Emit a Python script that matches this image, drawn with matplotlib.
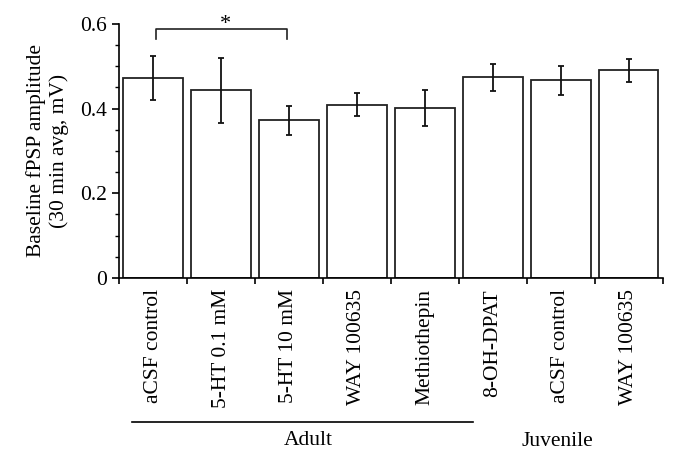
import matplotlib.pyplot as plt
import numpy as np

plt.rcParams['font.family'] = ['Liberation Serif', 'DejaVu Serif']

labels = ['aCSF control', '5-HT 0.1 mM', '5-HT 10 mM', 'WAY 100635',
          'Methiothepin', '8-OH-DPAT', 'aCSF control', 'WAY 100635']
means = [0.472, 0.443, 0.372, 0.409, 0.402, 0.474, 0.467, 0.491]
errors = [0.052, 0.076, 0.034, 0.027, 0.043, 0.032, 0.034, 0.027]

fig = plt.figure(figsize=(6.79, 4.61), dpi=100)
ax = fig.add_axes([0.1753, 0.397, 0.801, 0.551])

x = np.arange(len(labels))
ax.bar(x, means, width=0.87, color='white', edgecolor='#222222', linewidth=1.3,
       yerr=errors, error_kw=dict(ecolor='#111111', elinewidth=1.3, capsize=2, capthick=1.3))

ax.set_xlim(-0.5, len(labels) - 0.5)
ax.set_ylim(0, 0.6)
ax.spines['top'].set_visible(False)
ax.spines['right'].set_visible(False)
ax.spines['left'].set_linewidth(1.2)
ax.spines['bottom'].set_linewidth(1.2)

ax.set_yticks([0, 0.2, 0.4, 0.6])
ax.set_yticklabels(['0', '0.2', '0.4', '0.6'])
ax.set_yticks(np.arange(0, 0.6, 0.05), minor=True)
ax.tick_params(axis='y', which='major', length=5, width=1.2, labelsize=15.5, pad=4)
ax.tick_params(axis='y', which='minor', length=3, width=1.0)

# category boundary ticks, labels at centres
ax.set_xticks(np.arange(len(labels) + 1) - 0.5)
ax.set_xticklabels([])
ax.tick_params(axis='x', which='major', length=4, width=1.2)
ax.set_xticks(x, minor=True)
ax.set_xticklabels(labels, minor=True, rotation=90, fontsize=15.5)
ax.tick_params(axis='x', which='minor', length=0, pad=8)

ax.set_ylabel('Baseline fPSP amplitude\n(30 min avg, mV)', fontsize=15.5, labelpad=8)

# significance bracket
ax.plot([0.05, 0.05, 1.97, 1.97], [0.565, 0.589, 0.589, 0.565], color='#222222', lw=1.2,
        clip_on=False)
ax.text(1.07, 0.577, '*', ha='center', va='bottom', fontsize=16)

# group annotations
fig.add_artist(plt.Line2D([132 / 679, 473 / 679], [1 - 422 / 461] * 2, color='black', lw=1.2))
fig.text(308 / 679, 1 - 440 / 461, 'Adult', ha='center', va='center', fontsize=15.5)
fig.text(557 / 679, 1 - 441 / 461, 'Juvenile', ha='center', va='center', fontsize=15.5)

fig.savefig('out.png', dpi=100)
